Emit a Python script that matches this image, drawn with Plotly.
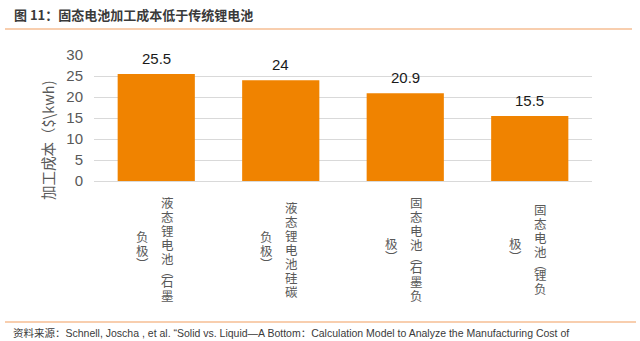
import plotly.graph_objects as go

categories = ["液态锂电池（石墨负极）", "液态锂电池（硅碳负极）", "固态电池（石墨负极）", "固态电池（锂负极）"]
values = [25.5, 24, 20.9, 15.5]
label_col1 = ["液态锂电池(石墨", "液态锂电池硅碳", "固态电池(石墨负", "固态电池(锂负"]
label_col2 = ["负极)", "负极)", "极)", "极)"]
y_ticks = [0, 5, 10, 15, 20, 25, 30]

title_text = "图 11：固态电池加工成本低于传统锂电池"
y_title = "加工成本（$\\kwh)"
source_text = "资料来源：Schnell, Joscha , et al. “Solid vs. Liquid—A Bottom：Calculation Model to Analyze the Manufacturing Cost of"

BAR = "#F08300"
GRAY = "#595959"
CJK = "Noto Sans CJK SC"
NUM = "Liberation Sans, Arial, sans-serif"

W, H = 640, 341
L, R, T, B = 94, 48, 55, 160
plot_bottom = H - B

fig = go.Figure(go.Bar(
    x=categories, y=values, marker=dict(color=BAR, line=dict(width=0)),
    width=0.62, hoverinfo="skip"))

annotations = []
# value labels
for c, v in zip(categories, values):
    annotations.append(dict(x=c, y=v, xref="x", yref="y", text=str(v), showarrow=False,
                            yanchor="bottom", yshift=5,
                            font=dict(family=NUM, size=15, color="#1a1a1a")))

# vertical category labels (stacked characters)
def column(text, cat, xshift, yc=249):
    items = []
    for ch in text:
        if ch == "(":
            items.append(("︵", 9))
        elif ch == ")":
            items.append(("︶", 11))
        else:
            items.append((ch, 14))
    total = sum(h for _, h in items)
    y = yc - total / 2
    for ch, h in items:
        cy = y + h / 2
        annotations.append(dict(x=cat, y=0, xref="x", yref="paper", text=ch, showarrow=False,
                                xanchor="center", yanchor="middle", xshift=xshift,
                                yshift=plot_bottom - cy, borderpad=0,
                                font=dict(family=CJK, size=12.5, color=GRAY)))
        y += h

for c, a, b in zip(categories, label_col1, label_col2):
    column(a, c, 11)
    column(b, c, -14)

pw = W - L - R
ph = H - T - B
def px(xp):
    return (xp - L) / pw
def py(yp):
    return (H - B - yp) / ph

# y axis title
annotations.append(dict(x=px(47), y=py(140), xref="paper", yref="paper", text=y_title,
                        textangle=-90, showarrow=False, xanchor="center", yanchor="middle",
                        font=dict(family=CJK, size=14.5, color=GRAY)))
# title
annotations.append(dict(x=px(12), y=py(14), xref="paper", yref="paper", text="<b>" + title_text + "</b>",
                        showarrow=False, xanchor="left", yanchor="middle",
                        font=dict(family=CJK, size=13, color="#3a3a3a")))
# source
annotations.append(dict(x=px(11), y=py(333), xref="paper", yref="paper", text=source_text,
                        showarrow=False, xanchor="left", yanchor="middle",
                        font=dict(family="Liberation Sans, " + CJK, size=10.5, color="#3a3a3a")))

shapes = [
    dict(type="line", xref="paper", yref="paper", x0=px(5), x1=px(632), y0=py(29), y1=py(29),
         line=dict(color="#F6BE93", width=1.5)),
    dict(type="line", xref="paper", yref="paper", x0=px(5), x1=px(636), y0=py(322), y1=py(322),
         line=dict(color="#F6BE93", width=1.5)),
]

fig.update_layout(
    width=W, height=H, margin=dict(l=L, r=R, t=T, b=B, pad=0),
    paper_bgcolor="white", plot_bgcolor="white", showlegend=False,
    annotations=annotations, shapes=shapes,
    xaxis=dict(showticklabels=False, ticks="", showgrid=False, showline=False, zeroline=False,
               fixedrange=True),
    yaxis=dict(range=[0, 30], tickvals=y_ticks, showgrid=True, gridcolor="#D9D9D9", gridwidth=1,
               zeroline=True, zerolinecolor="#D9D9D9", zerolinewidth=1, showline=False, ticks="",
               tickfont=dict(family=NUM, size=15, color=GRAY), ticklabelstandoff=10, fixedrange=True),
)

fig.write_html("out.html")
